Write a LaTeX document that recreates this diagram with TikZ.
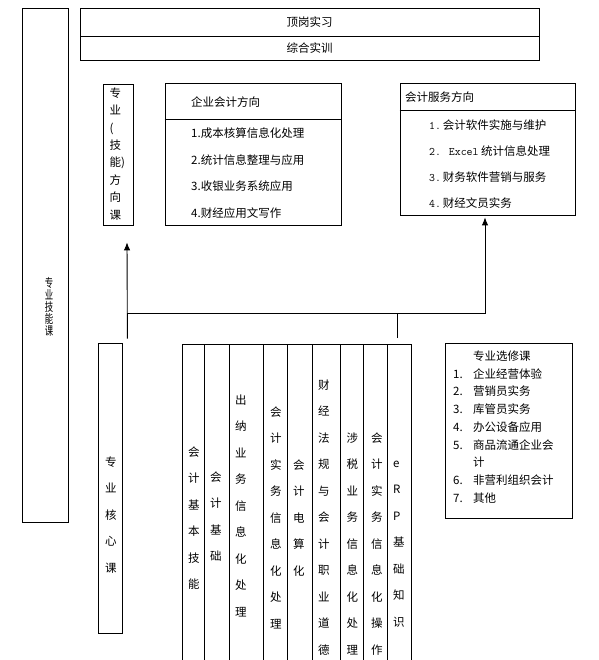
\documentclass[tikz,border=0pt]{standalone}
\usepackage{fontspec}
\setmainfont{Noto Sans CJK SC}
\usepackage{graphicx}
\usetikzlibrary{arrows.meta, positioning, calc}

\begin{document}
\begin{tikzpicture}[x=1pt, y=-1pt,
  every node/.style={font=\fontsize{11.5}{14}\selectfont},
  box/.style={draw, line width=0.8pt, inner sep=0pt},
  lbl/.style={anchor=west, inner sep=0pt, text height=10.1pt, text depth=1.4pt},
  arr/.style={-{Latex[length=8pt,width=6.5pt]}, line width=0.9pt}]
\useasboundingbox (0,0) rectangle (598,660);

% outer course boxes
\node[box, minimum width=46pt, minimum height=514pt] (jineng) at (45,265) {};
\foreach \c [count=\k from 0] in {专,业,技,能,课}
  \node[lbl, anchor=center, font=\fontsize{12}{12}\selectfont] (jn-\k) at ({49},{283+12*\k}) {\scalebox{0.7}[1]{\c}};

\node[box, minimum width=459pt, minimum height=28pt] (dinggang) at (309.5,22) {顶岗实习};
\node[box, minimum width=459pt, minimum height=24pt] (zonghe) at (309.5,48) {综合实训};

\node[box, minimum width=30pt, minimum height=141pt] (fangxiang) at (118,154.5) {};

\node[box, minimum width=176pt, minimum height=142pt] (qiye) at (253,154) {};
\draw[line width=0.8pt] (qiye.west |- 0,119) -- (qiye.east |- 0,119);
\node[lbl] (qiye-t) at (191,102) {企业会计方向};
\foreach \t [count=\k] in {1.成本核算信息化处理, 2.统计信息整理与应用, 3.收银业务系统应用, 4.财经应用文写作}
  \node[lbl] (qiye-\k) at ({191},{106.5+26.6*\k}) {\t};

\node[box, minimum width=175pt, minimum height=132pt] (fuwu) at (487.5,149) {};
\draw[line width=0.8pt] (fuwu.west |- 0,110) -- (fuwu.east |- 0,110);
\node[lbl] (fuwu-t) at (405,97) {会计服务方向};
\node[lbl] (fuwu-1) at (429,125) {{\ttfamily 1.}\,会计软件实施与维护};
\node[lbl] (fuwu-2) at (429,151) {{\ttfamily 2. Excel} 统计信息处理};
\node[lbl] (fuwu-3) at (429,177) {{\ttfamily 3.}\,财务软件营销与服务};
\node[lbl] (fuwu-4) at (429,203) {{\ttfamily 4.}\,财经文员实务};

\node[box, minimum width=24pt, minimum height=290pt] (hexin) at (110,488) {};

\node[box, minimum width=127pt, minimum height=175pt] (xuanxiu) at (508.5,430.5) {};
\node[lbl] (xuanxiu-t) at (473,356) {专业选修课};
\foreach \n/\t/\r in {1./企业经营体验/1, 2./营销员实务/2, 3./库管员实务/3, 4./办公设备应用/4, 5./商品流通企业会/5, 6./非营利组织会计/7, 7./其他/8} {
  \node[lbl] (xnum-\n) at ({453},{356+17.75*\r}) {\n};
  \node[lbl] (xtxt-\n) at ({473},{356+17.75*\r}) {\t};
}
\node[lbl] (xtxt-5b) at (473,462.5) {计};

% core course table
\draw[line width=0.8pt] (182,344) -- (411,344);
\foreach \x in {182,204,229,263,287,312,340,363,387,411}
  \draw[line width=0.8pt] (\x,344) -- (\x,660);

\foreach \name/\x/\y/\dy/\chars in {
  kjjn/188/452/26.5/{会,计,基,本,技,能},
  kjjc/210/477/26.5/{会,计,基,础},
  cnyw/235/400/26.5/{出,纳,业,务,信,息,化,处,理},
  kjsw/270/412/26.5/{会,计,实,务,信,息,化,处,理},
  kjds/293/465/26.5/{会,计,电,算,化},
  cjfg/318/385/26.5/{财,经,法,规,与,会,计,职,业,道,德},
  sswu/346.5/438/26.5/{涉,税,业,务,信,息,化,处,理},
  kjcz/371/438/26.5/{会,计,实,务,信,息,化,操,作},
  erp/393/463/26.5/{e,R,P,基,础,知,识},
  hxk/105/462/26.5/{专,业,核,心,课},
  fxk/109.5/93/17.4/{专,业,{(},技,{能)},方,向,课}}
  \foreach \c [count=\k from 0] in \chars
    \node[lbl] (\name-\k) at ({\x},{\y+\dy*\k}) {\c};

% connectors
\coordinate (coreTop) at ([xshift=5pt, yshift=4pt]hexin.north east);
\coordinate (leftTip) at ([xshift=9pt, yshift=-17pt]fangxiang.south);
\coordinate (rightTip) at ([xshift=-2.5pt, yshift=-2pt]fuwu.south);
\coordinate (tblTop) at (397,338);
\coordinate (busL) at (127,313);
\coordinate (busM) at (397,313);
\coordinate (busR) at (rightTip |- busL);
\draw[arr] (coreTop) -- (leftTip);
\draw[arr] (busL) -- (busR) -- (rightTip);
\draw[line width=0.8pt] (tblTop) -- (busM);
\end{tikzpicture}
\end{document}
